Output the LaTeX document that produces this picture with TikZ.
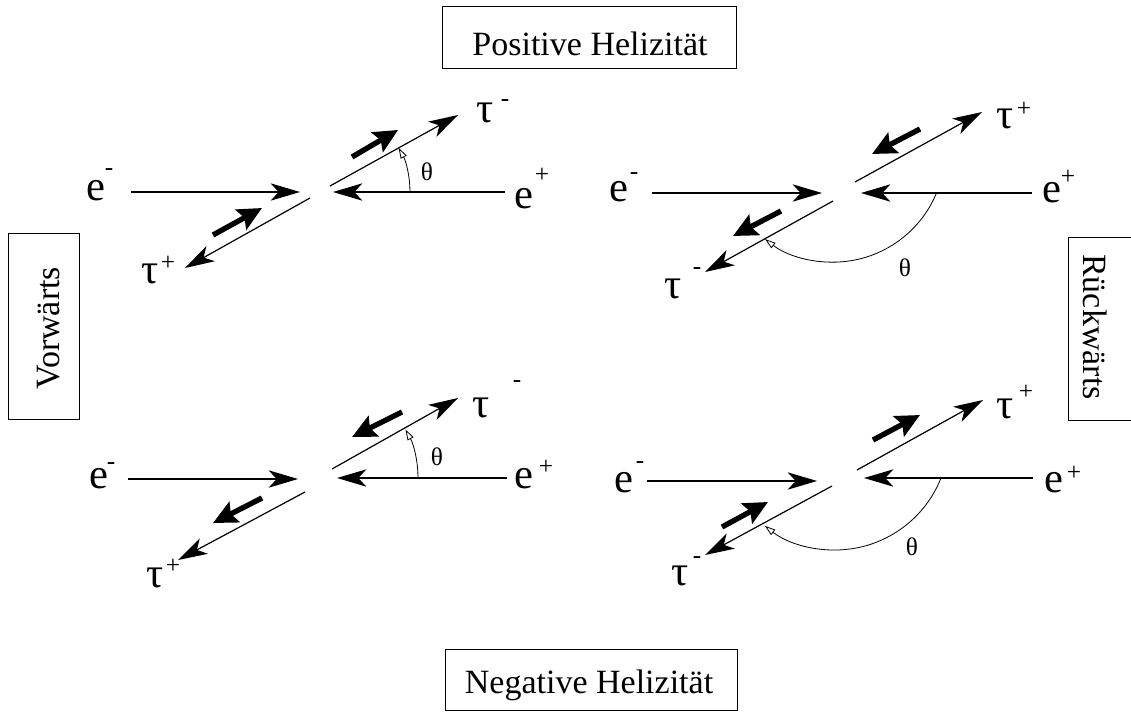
\documentclass[tikz,border=0pt]{standalone}
\usepackage{fontspec}
\setmainfont{Liberation Serif}
\usetikzlibrary{arrows.meta}
\begin{document}
\begin{tikzpicture}[x=0.75pt,y=-0.75pt,
  track/.style={line width=0.9pt,-{Stealth[length=22pt,width=13pt,inset=6pt]}},
  spin/.style={line width=4pt,-{Stealth[length=18pt,width=17pt,inset=3pt]}},
  anglearc/.style={line width=0.6pt,-{Triangle[open,length=8pt,width=5pt,line width=0.6pt]}},
  box/.style={draw,line width=0.75pt,inner sep=0pt},
  boxtext/.style={inner sep=0pt,font=\fontsize{25.5}{30}\selectfont},
  lab/.style={inner sep=0pt,anchor=base west,font=\fontsize{32}{34}\selectfont},
  suplab/.style={inner sep=0pt,font=\fontsize{19}{20}\selectfont},
  th/.style={inner sep=0pt,font=\fontsize{19}{20}\selectfont},
]
\useasboundingbox (0,0) rectangle (1131,711);

% ---------- boxes ----------
\node[box,minimum width=220.5pt,minimum height=46.5pt] (boxtop) at (589,37) {};
\node[boxtext,anchor=base] (txttop) at (590,55) {Positive Helizität};
\node[box,minimum width=219pt,minimum height=45.75pt] (boxbot) at (591,679.5) {};
\node[boxtext,anchor=base] (txtbot) at (589,693) {Negative Helizität};
\node[box,minimum width=53.25pt,minimum height=139.5pt] (boxleft) at (43.5,326) {};
\node[boxtext,rotate=90,anchor=base] (txtleft) at (59,328) {Vorwärts};
\node[box,minimum width=54pt,minimum height=137.25pt] (boxright) at (1104,328.5) {};
\node[boxtext,rotate=-90] (txtright) at (1095,327) {Rückwärts};

% ---------- top left ----------
\coordinate (tlA1) at (131,192); \coordinate (tlA2) at (300,192);
\coordinate (tlB1) at (505,192); \coordinate (tlB2) at (333,192);
\coordinate (tlC1) at (330,186); \coordinate (tlC2) at (458,115);
\coordinate (tlD1) at (310,198); \coordinate (tlD2) at (185,268);
\coordinate (tlS1) at (352,157); \coordinate (tlS2) at (398,130);
\coordinate (tlT1) at (213,235); \coordinate (tlT2) at (262,208);
\coordinate (tlR) at (410,192);
\draw[track] (tlA1) -- (tlA2);
\draw[track] (tlB1) -- (tlB2);
\draw[track] (tlC1) -- (tlC2);
\draw[track] (tlD1) -- (tlD2);
\draw[spin] (tlS1) -- (tlS2);
\draw[spin] (tlT1) -- (tlT2);
\draw[anglearc] (tlR) arc[start angle=0,end angle=-29,radius=91];
\node[lab] (tle1) at (86,200) {e}; \node[suplab] (tle1s) at (109,172) {-};
\node[lab] (tle2) at (514,208) {e}; \node[suplab] (tle2s) at (542,175) {+};
\node[lab] (tlt1) at (476,122) {τ}; \node[suplab] (tlt1s) at (505,103) {-};
\node[lab] (tlt2) at (141,283) {τ}; \node[suplab] (tlt2s) at (168,263) {+};
\node[th] (tlth) at (427,172) {θ};

% ---------- top right ----------
\coordinate (trA1) at (652,193); \coordinate (trA2) at (822,193);
\coordinate (trB1) at (1032,193); \coordinate (trB2) at (861,193);
\coordinate (trC1) at (855,182); \coordinate (trC2) at (982,112);
\coordinate (trD1) at (833,201); \coordinate (trD2) at (705,272);
\coordinate (trS1) at (920,129); \coordinate (trS2) at (872,154);
\coordinate (trT1) at (781,211); \coordinate (trT2) at (733,236);
\coordinate (trR) at (936.5,193);
\draw[track] (trA1) -- (trA2);
\draw[track] (trB1) -- (trB2);
\draw[track] (trC1) -- (trC2);
\draw[track] (trD1) -- (trD2);
\draw[spin] (trS1) -- (trS2);
\draw[spin] (trT1) -- (trT2);
\draw[anglearc] (trR) arc[start angle=22.5,end angle=127.4,radius=112];
\node[lab] (tre1) at (609,201) {e}; \node[suplab] (tre1s) at (634,176) {-};
\node[lab] (tre2) at (1042,202) {e}; \node[suplab] (tre2s) at (1068,177) {+};
\node[lab] (trt1) at (996,128) {τ}; \node[suplab] (trt1s) at (1024,109) {+};
\node[lab] (trt2) at (664,298) {τ}; \node[suplab] (trt2s) at (697,271) {-};
\node[th] (trth) at (905,268) {θ};

% ---------- bottom left ----------
\coordinate (blA1) at (128,479); \coordinate (blA2) at (298,479);
\coordinate (blB1) at (507,478); \coordinate (blB2) at (337,478);
\coordinate (blC1) at (332,469); \coordinate (blC2) at (458,398);
\coordinate (blD1) at (305,492); \coordinate (blD2) at (178,560);
\coordinate (blS1) at (402,412); \coordinate (blS2) at (352,437);
\coordinate (blT1) at (262,498); \coordinate (blT2) at (213,523);
\coordinate (blR) at (418,478);
\draw[track] (blA1) -- (blA2);
\draw[track] (blB1) -- (blB2);
\draw[track] (blC1) -- (blC2);
\draw[track] (blD1) -- (blD2);
\draw[spin] (blS1) -- (blS2);
\draw[spin] (blT1) -- (blT2);
\draw[anglearc] (blR) arc[start angle=0,end angle=-29,radius=100];
\node[lab] (ble1) at (89,488) {e}; \node[suplab] (ble1s) at (111,466) {-};
\node[lab] (ble2) at (514,488) {e}; \node[suplab] (ble2s) at (546,467) {+};
\node[lab] (blt1) at (472,417) {τ}; \node[suplab] (blt1s) at (517,384) {-};
\node[lab] (blt2) at (146,587) {τ}; \node[suplab] (blt2s) at (173,566) {+};
\node[th] (blth) at (437,457) {θ};

% ---------- bottom right ----------
\coordinate (brA1) at (647,481); \coordinate (brA2) at (817,481);
\coordinate (brB1) at (1033,478); \coordinate (brB2) at (864,478);
\coordinate (brC1) at (857,470); \coordinate (brC2) at (983,400);
\coordinate (brD1) at (832,486); \coordinate (brD2) at (705,555);
\coordinate (brS1) at (873,440); \coordinate (brS2) at (920,415);
\coordinate (brT1) at (722,527); \coordinate (brT2) at (768,502);
\coordinate (brR) at (940.7,478.7);
\draw[track] (brA1) -- (brA2);
\draw[track] (brB1) -- (brB2);
\draw[track] (brC1) -- (brC2);
\draw[track] (brD1) -- (brD2);
\draw[spin] (brS1) -- (brS2);
\draw[spin] (brT1) -- (brT2);
\draw[anglearc] (brR) arc[start angle=22,end angle=128,radius=114];
\node[lab] (bre1) at (614,492) {e}; \node[suplab] (bre1s) at (640,465) {-};
\node[lab] (bre2) at (1044,492) {e}; \node[suplab] (bre2s) at (1074,473) {+};
\node[lab] (brt1) at (996,418) {τ}; \node[suplab] (brt1s) at (1026,392) {+};
\node[lab] (brt2) at (671,585) {τ}; \node[suplab] (brt2s) at (697,560) {-};
\node[th] (brth) at (912,547) {θ};
\end{tikzpicture}
\end{document}
